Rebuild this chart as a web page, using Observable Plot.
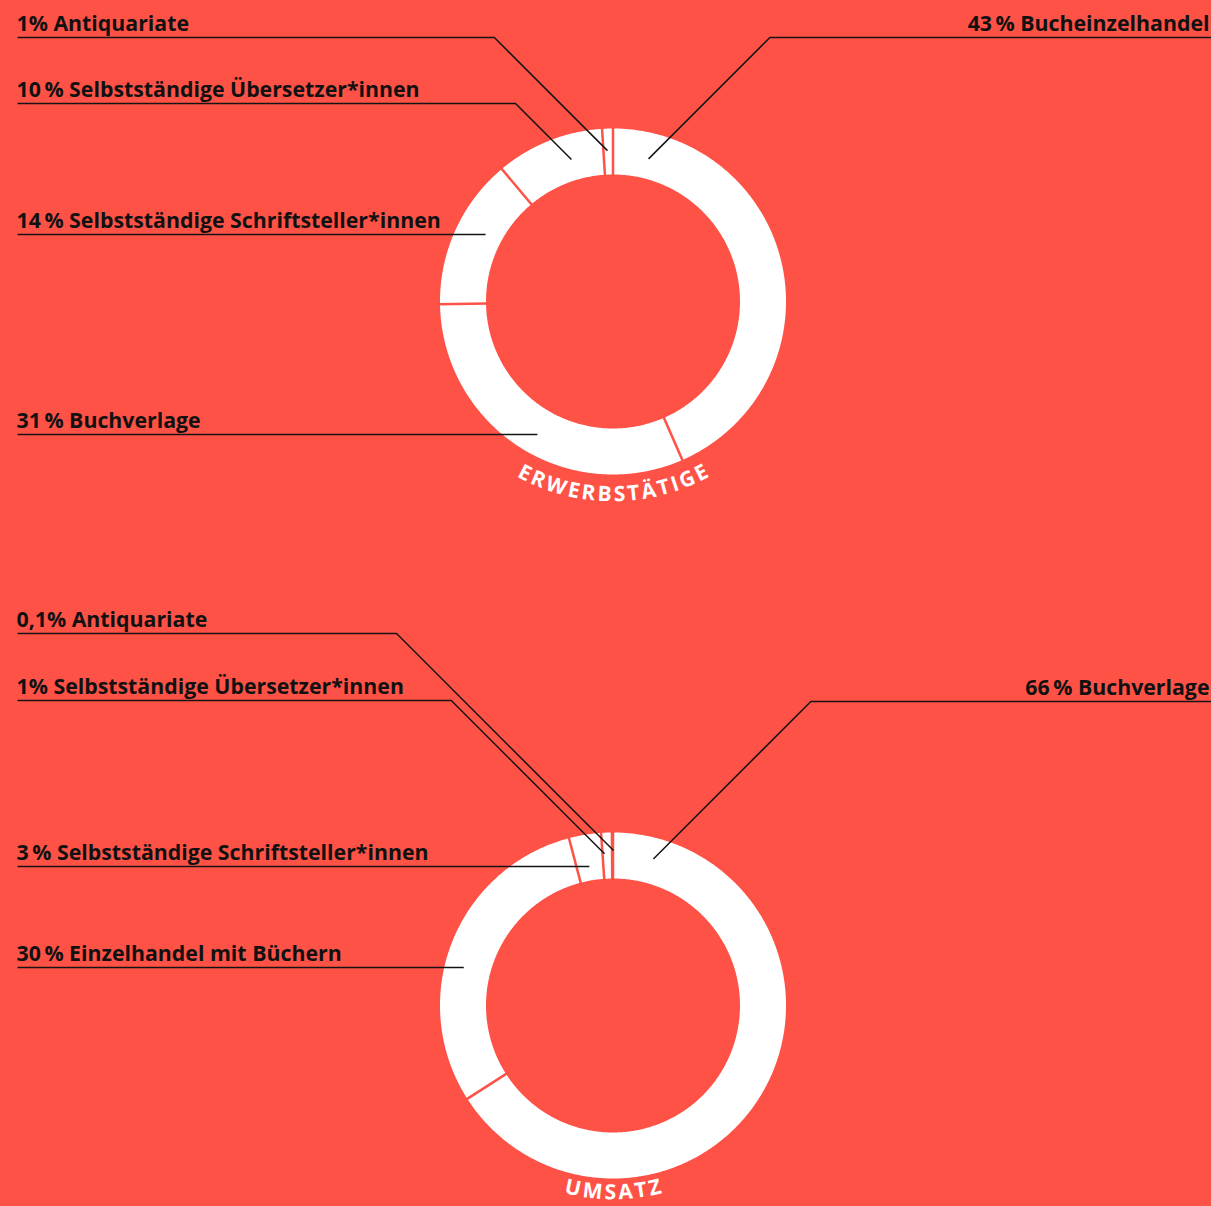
<!DOCTYPE html>
<html><head><meta charset="utf-8">
<script src="https://cdn.jsdelivr.net/npm/d3@7"></script>
<script src="https://cdn.jsdelivr.net/npm/@observablehq/plot@0.6"></script>
<style>
html,body{margin:0;padding:0;background:#ff5246;overflow:hidden;}
</style>
</head><body><div id="chart"></div>
<script>
// ---------- data ----------
const workCategories = ["Bucheinzelhandel", "Buchverlage", "Selbstständige Schriftsteller*innen", "Selbstständige Übersetzer*innen", "Antiquariate"];
const workShares = [43, 31, 14, 10, 1];
const workLabels = ["43\u2009% Bucheinzelhandel", "31\u2009% Buchverlage", "14\u2009% Selbstständige Schriftsteller*innen", "10\u2009% Selbstständige Übersetzer*innen", "1% Antiquariate"];

const salesCategories = ["Buchverlage", "Einzelhandel mit Büchern", "Selbstständige Schriftsteller*innen", "Selbstständige Übersetzer*innen", "Antiquariate"];
const salesShares = [66, 30, 3, 1, 0.1];
const salesLabels = ["66\u2009% Buchverlage", "30\u2009% Einzelhandel mit Büchern", "3\u2009% Selbstständige Schriftsteller*innen", "1% Selbstständige Übersetzer*innen", "0,1% Antiquariate"];

const chartTitles = ["ERWERBSTÄTIGE", "UMSATZ"];

// ---------- layout (positions only) ----------
const W = 1211, H = 1206;
const BG = "#ff5246";
const FONT = "Open Sans";
const LABEL_SIZE = 21.3;
const CX = 612.5;
const centersY = [301, 1005];
const R_IN = 127, R_OUT = 173;
const workRows = [37, 434, 234, 103, 37];
const workSides = ["right", "left", "left", "left", "left"];
const workEnds = [[14, 147], [null, 153], [null, 144], [343.7, 148], [357.9, 151]];
const salesRows = [701, 967, 866, 700, 633];
const salesSides = ["right", "left", "left", "left", "left"];
const salesEnds = [[15.4, 152], [null, 154], [null, 141], [356.8, 152], [0.2, 155]];

const donuts = [
  {cy: centersY[0], cats: workCategories, values: workShares, labels: workLabels, title: chartTitles[0], rows: workRows, sides: workSides, ends: workEnds, titleR: 193},
  {cy: centersY[1], cats: salesCategories, values: salesShares, labels: salesLabels, title: chartTitles[1], rows: salesRows, sides: salesSides, ends: salesEnds, titleR: 187}
];

const rad = d => d * Math.PI / 180;
const polar = (cy, a, r) => [CX + r * Math.sin(rad(a)), cy - r * Math.cos(rad(a))];

const segPts = [], seps = [], leaders = [], labelRows = [], letters = [];

const ctx = document.createElement("canvas").getContext("2d");
const TITLE_FONT_SIZE = 21, TITLE_SPACING = 2.1;
ctx.font = `700 ${TITLE_FONT_SIZE}px "${FONT}"`;

donuts.forEach((d, di) => {
  const total = d3.sum(d.values);
  let acc = 0;
  d.values.forEach((v, i) => {
    const a0 = acc / total * 360, a1 = (acc + v) / total * 360;
    acc += v;
    const n = Math.max(2, Math.ceil((a1 - a0) / 0.5) + 1);
    const key = di + "-" + d.cats[i];
    const outer = [], inner = [];
    for (let k = 0; k < n; k++) {
      const a = a0 + (a1 - a0) * k / (n - 1);
      outer.push(polar(d.cy, a, R_OUT));
      inner.push(polar(d.cy, a, R_IN));
    }
    outer.concat(inner.reverse()).forEach(([x, y]) => segPts.push({key, x, y}));
    const [x1, y1] = polar(d.cy, a0, R_IN - 2);
    const [x2, y2] = polar(d.cy, a0, R_OUT + 2);
    seps.push({x1, y1, x2, y2});

    // leader
    const row = d.rows[i], side = d.sides[i], [ea, er] = d.ends[i];
    const lk = di + "-" + i;
    if (ea === null) {
      const dy = row - d.cy;
      const dx = Math.sqrt(er * er - dy * dy);
      leaders.push({key: lk, x: side === "left" ? 17 : W, y: row});
      leaders.push({key: lk, x: side === "left" ? CX - dx : CX + dx, y: row});
    } else {
      const end = polar(d.cy, ea, er);
      const elbowX = side === "left" ? end[0] - (end[1] - row) : end[0] + (end[1] - row);
      leaders.push({key: lk, x: side === "left" ? 17 : W, y: row});
      leaders.push({key: lk, x: elbowX, y: row});
      leaders.push({key: lk, x: end[0], y: end[1]});
    }
    labelRows.push({text: d.labels[i], x: side === "left" ? 16 : W - 2, y: row - 7, anchor: side === "left" ? "start" : "end"});
  });

  // curved title
  const chars = Array.from(d.title);
  const widths = chars.map(c => ctx.measureText(c).width);
  const L = d3.sum(widths) + TITLE_SPACING * (chars.length - 1);
  let s = 0;
  chars.forEach((c, k) => {
    const mid = s + widths[k] / 2;
    s += widths[k] + TITLE_SPACING;
    const a = 180 + (L / 2 - mid) / d.titleR * 180 / Math.PI;
    const [x, y] = polar(d.cy, a, d.titleR);
    letters.push({c, x, y, rot: a - 180});
  });
});

const leftLabels = labelRows.filter(d => d.anchor === "start");
const rightLabels = labelRows.filter(d => d.anchor === "end");

const chart = Plot.plot({
  width: W, height: H,
  margin: 0,
  x: {domain: [0, W], range: [0, W], axis: null},
  y: {domain: [0, H], range: [0, H], axis: null},
  style: {background: BG, fontFamily: FONT},
  marks: [
    Plot.line(segPts, {x: "x", y: "y", z: "key", fill: "white", stroke: "none", curve: "linear-closed"}),
    Plot.link(seps, {x1: "x1", y1: "y1", x2: "x2", y2: "y2", stroke: BG, strokeWidth: 2.5}),
    Plot.line(leaders, {x: "x", y: "y", z: "key", stroke: "#141414", strokeWidth: 1.5, strokeLinecap: "butt", curve: "linear"}),
    Plot.text(leftLabels, {x: "x", y: "y", text: "text", textAnchor: "start", lineAnchor: "bottom", fontSize: LABEL_SIZE, fontWeight: 700, fill: "#111", fontFamily: FONT}),
    Plot.text(rightLabels, {x: "x", y: "y", text: "text", textAnchor: "end", lineAnchor: "bottom", fontSize: LABEL_SIZE, fontWeight: 700, fill: "#111", fontFamily: FONT}),
    Plot.text(letters, {x: "x", y: "y", text: "c", rotate: "rot", textAnchor: "middle", lineAnchor: "middle", fontSize: TITLE_FONT_SIZE, fontWeight: 700, fill: "white", fontFamily: FONT})
  ]
});
document.getElementById("chart").appendChild(chart);
</script>
</body></html>
